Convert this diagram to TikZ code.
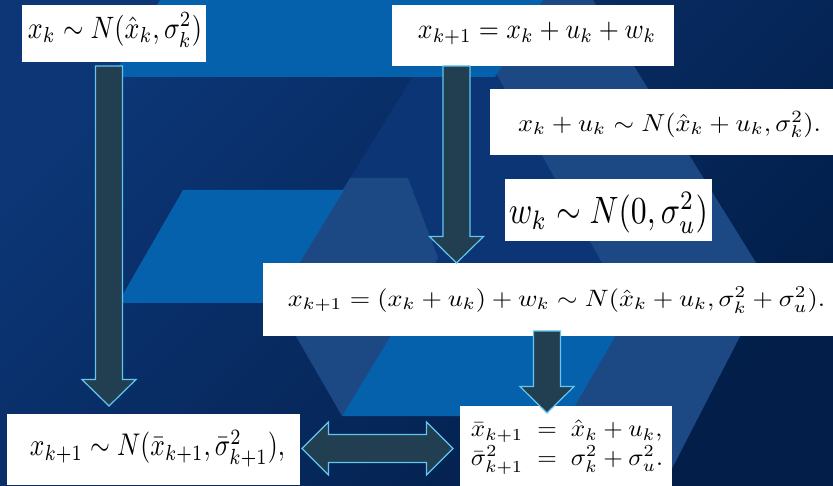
\documentclass[tikz,border=0pt]{standalone}
\usepackage{graphicx}
\usetikzlibrary{calc}
\definecolor{bgL}{HTML}{0C3676}
\definecolor{bgR}{HTML}{021E49}
\definecolor{lightblue}{HTML}{0661AC}
\definecolor{midblue}{HTML}{1C4884}
\definecolor{mddark}{HTML}{0C3575}
\definecolor{arrfill}{HTML}{213F51}
\definecolor{arrline}{HTML}{62C6F0}
\tikzset{
  panel/.style={fill=white, draw=none, inner sep=0pt, outer sep=0pt},
  eqtext/.style={inner sep=0pt, outer sep=0pt, text=black},
  blockarrow/.style={fill=arrfill, draw=arrline, line width=1.2pt, line join=miter},
}
\newcommand\eqbox[3]{\resizebox*{#1pt}{#2pt}{$#3$}}
\newcommand\blkdown[2]{%
  \path[blockarrow] let \p1=(#1), \p2=(#2) in
    (\x1-13.5pt,\y1) -- (\x1+13.5pt,\y1) -- (\x1+13.5pt,\y2+26.5pt) -- (\x1+27pt,\y2+26.5pt)
    -- (\x2,\y2) -- (\x1-27pt,\y2+26.5pt) -- (\x1-13.5pt,\y2+26.5pt) -- cycle;}
\newcommand\blkboth[2]{%
  \path[blockarrow] let \p1=(#1), \p2=(#2) in
    (\x1,\y1) -- (\x1+26.5pt,\y1+26.5pt) -- (\x1+26.5pt,\y1+14pt) -- (\x2-26.5pt,\y1+14pt)
    -- (\x2-26.5pt,\y1+26.5pt) -- (\x2,\y2) -- (\x2-26.5pt,\y1-26.5pt) -- (\x2-26.5pt,\y1-14pt)
    -- (\x1+26.5pt,\y1-14pt) -- (\x1+26.5pt,\y1-26.5pt) -- cycle;}
\begin{document}
\begin{tikzpicture}[x=1pt,y=-1pt]
\useasboundingbox (0,0) rectangle (833,486);
% background
\shade[top color=bgL, bottom color=bgR, shading angle=45] (0,0) rectangle (833,486);
\fill[mddark] (460,0) -- (629,311) -- (275,300) -- cycle;
\fill[midblue] (455,0) -- (593,0) -- (768,282) -- (663,486) -- (528,486) -- (629,311) -- cycle;
\fill[lightblue] (414,290) -- (642,290) -- (569,416) -- (342,416) -- cycle;
\fill[midblue] (350,178) -- (408,178) -- (438,258) -- (342,416) -- (275,300) -- cycle;
\fill[lightblue] (183,190) -- (344,190) -- (275,303) -- (118,303) -- cycle;
\fill[lightblue] (160,0) -- (543,0) -- (495,77) -- (112,77) -- cycle;
% panels
\node[panel, minimum width=184pt, minimum height=57pt] (A) at (114,33.5) {};
\node[panel, minimum width=282pt, minimum height=61pt] (B) at (533,35.5) {};
\node[panel, minimum width=344pt, minimum height=66pt] (C) at (662,122) {};
\node[panel, minimum width=207pt, minimum height=62pt] (D) at (608.5,210) {};
\node[panel, minimum width=571pt, minimum height=73pt] (E) at (548.5,299.5) {};
\node[panel, minimum width=293pt, minimum height=71pt] (F) at (153.5,449.5) {};
\node[panel, minimum width=212pt, minimum height=80pt] (G) at (566,446) {};
% arrows
\coordinate (a1s) at (109,66);   \coordinate (a1e) at (109,406);
\coordinate (a2s) at (456.5,66); \coordinate (a2e) at (456.5,263);
\coordinate (a3s) at (547,331);  \coordinate (a3e) at (547,413);
\coordinate (a4l) at (302,448.5); \coordinate (a4r) at (453,448.5);
\blkdown{a1s}{a1e}
\blkdown{a2s}{a2e}
\blkdown{a3s}{a3e}
\blkboth{a4l}{a4r}
% texts
\node[eqtext] (At) at (115,30) {\eqbox{174}{34}{x_k\sim N(\hat{x}_k,\sigma_k^2)}};
\node[eqtext] (Bt) at (537,33.5) {\eqbox{238}{23}{x_{k+1}=x_k+u_k+w_k}};
\node[eqtext] (Ct) at (669.5,124.5) {\eqbox{303}{27}{x_k+u_k\sim N(\hat{x}_k+u_k,\sigma_k^2).}};
\node[eqtext] (Dt) at (608.5,213) {\eqbox{199}{40.6}{w_k\sim N(0,\sigma_u^2)}};
\node[eqtext] (Et) at (556.5,300) {\eqbox{537}{26}{x_{k+1}=(x_k+u_k)+w_k\sim N(\hat{x}_k+u_k,\sigma_k^2+\sigma_u^2).}};
\node[eqtext] (Ft) at (157.5,448.5) {\eqbox{255}{37}{x_{k+1}\sim N(\bar{x}_{k+1},\bar{\sigma}_{k+1}^2),}};
\node[eqtext] (Gt) at (567,445.5) {\eqbox{192}{58}{\begin{array}{@{}r@{\;\;}c@{\;\;}l@{}}\bar{x}_{k+1}&=&\hat{x}_k+u_k,\\[0pt]\bar{\sigma}_{k+1}^2&=&\sigma_k^2+\sigma_u^2.\end{array}}};
\end{tikzpicture}
\end{document}
